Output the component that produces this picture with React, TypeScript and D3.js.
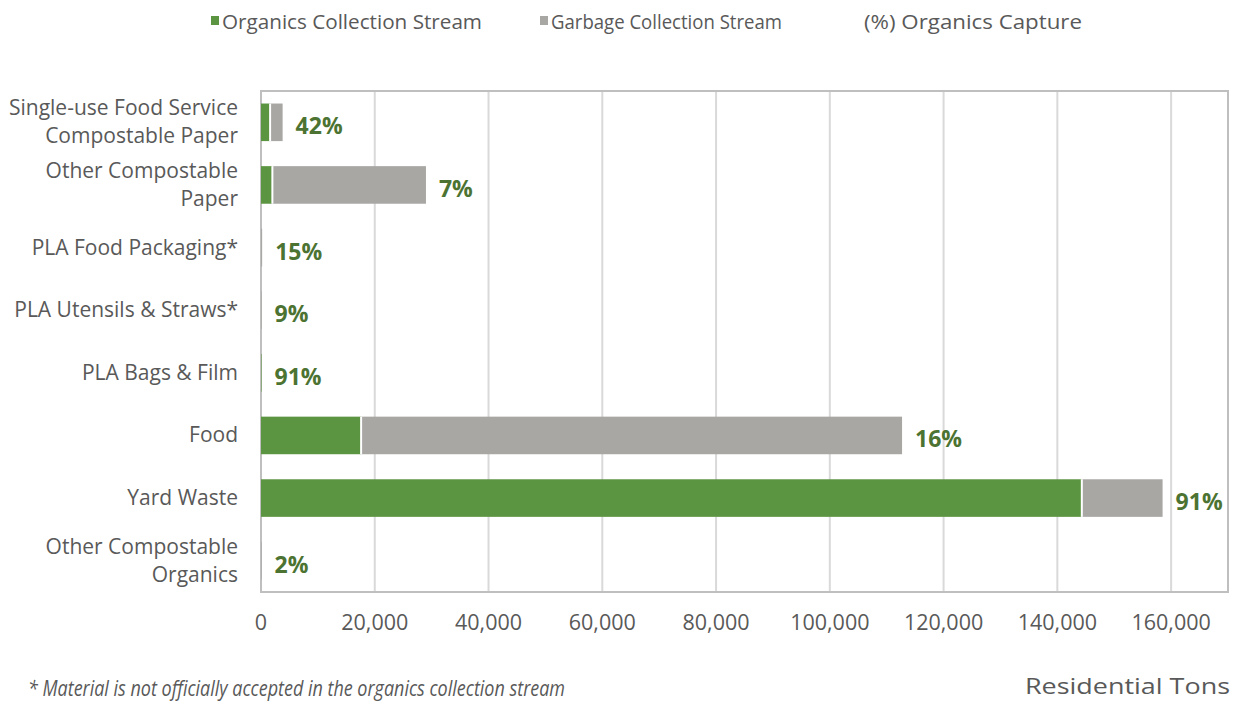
import React from "react";
import * as d3 from "d3";

const categories: string[][] = [
  ["Single-use Food Service", "Compostable Paper"],
  ["Other Compostable", "Paper"],
  ["PLA Food Packaging*"],
  ["PLA Utensils & Straws*"],
  ["PLA Bags & Film"],
  ["Food"],
  ["Yard Waste"],
  ["Other Compostable", "Organics"],
];
const categoryKeys = categories.map((c) => c.join(" "));
const organicsTons = [1600, 2000, 30, 9, 91, 17600, 144300, 2];
const garbageTons = [2200, 27000, 170, 91, 9, 95100, 14200, 98];
const captureLabels = ["42%", "7%", "15%", "9%", "91%", "16%", "91%", "2%"];
const xTicks = [0, 20000, 40000, 60000, 80000, 100000, 120000, 140000, 160000];
const xMax = 170000;

const GREEN = "#5B9541";
const GRAY = "#A9A7A4";
const LABEL_GREEN = "#4C7332";
const TEXT = "#595959";
const FONT = "'Open Sans', sans-serif";

export default function App() {
  const width = 1234;
  const height = 702;
  const left = 261;
  const right = 1228;
  const top = 91;
  const bottom = 592;

  const x = d3.scaleLinear().domain([0, xMax]).range([left, right]);
  const y = d3
    .scaleBand<string>()
    .domain(categoryKeys)
    .range([top, bottom])
    .paddingInner(0.4)
    .paddingOuter(0.2);
  const fmt = d3.format(",");

  return (
    <svg
      width={width}
      height={height}
      style={{ position: "absolute", left: 0, top: 0, background: "#fff" }}
      fontFamily={FONT}
    >
      {/* Legend */}
      <g fill={TEXT} fontSize={20}>
        <rect x={211} y={16} width={8} height={9} fill={GREEN} />
        <text x={222} y={21} dominantBaseline="central" textLength={260} lengthAdjust="spacingAndGlyphs">
          Organics Collection Stream
        </text>
        <rect x={540} y={16} width={8} height={9} fill={GRAY} />
        <text x={551} y={21} dominantBaseline="central" textLength={231} lengthAdjust="spacingAndGlyphs">
          Garbage Collection Stream
        </text>
        <text x={864} y={21} dominantBaseline="central" textLength={218} lengthAdjust="spacingAndGlyphs">
          (%) Organics Capture
        </text>
      </g>

      {/* Gridlines */}
      {xTicks.slice(1).map((t) => (
        <line key={t} x1={x(t)} x2={x(t)} y1={top} y2={bottom} stroke="#D9D9D9" strokeWidth={2} />
      ))}
      <rect x={left} y={top} width={right - left} height={bottom - top} fill="none" stroke="#BFBFBF" strokeWidth={2} />

      {/* Bars */}
      {categoryKeys.map((k, i) => {
        const y0 = y(k)!;
        const bw = y.bandwidth();
        const o = organicsTons[i];
        const g = garbageTons[i];
        const wo = x(o) - x(0);
        const wg = x(o + g) - x(o);
        return (
          <g key={k}>
            <rect x={x(0)} y={y0} width={wo} height={bw} fill={GREEN} />
            <rect x={x(o)} y={y0} width={wg} height={bw} fill={GRAY} />
            {wo > 2 && wg > 2 && (
              <line x1={x(o)} x2={x(o)} y1={y0} y2={y0 + bw} stroke="#fff" strokeWidth={2} />
            )}
            <text
              x={x(o + g) + 13}
              y={y0 + bw / 2 + 3}
              dominantBaseline="central"
              fontWeight="bold"
              fontSize={23}
              fill={LABEL_GREEN}
            >
              {captureLabels[i]}
            </text>
          </g>
        );
      })}

      {/* Y axis labels */}
      {categories.map((lines, i) => {
        const cy = y(categoryKeys[i])! + y.bandwidth() / 2;
        const n = lines.length;
        const lh = 28;
        return (
          <text key={i} textAnchor="end" fontSize={21} fill={TEXT}>
            {lines.map((ln, j) => (
              <tspan key={j} x={238} y={cy - 1 + (j - (n - 1) / 2) * lh} dominantBaseline="central">
                {ln}
              </tspan>
            ))}
          </text>
        );
      })}

      {/* X axis tick labels */}
      {xTicks.map((t) => (
        <text key={t} x={x(t)} y={621} textAnchor="middle" dominantBaseline="central" fontSize={21.5} fill={TEXT}>
          {fmt(t)}
        </text>
      ))}

      <text
        x={1025}
        y={686}
        dominantBaseline="central"
        fontSize={21}
        fill={TEXT}
        textLength={205}
        lengthAdjust="spacingAndGlyphs"
      >
        Residential Tons
      </text>
      <text
        x={28}
        y={688}
        dominantBaseline="central"
        fontSize={21}
        fontStyle="italic"
        fill={TEXT}
        textLength={537}
        lengthAdjust="spacingAndGlyphs"
      >
        * Material is not officially accepted in the organics collection stream
      </text>
    </svg>
  );
}
